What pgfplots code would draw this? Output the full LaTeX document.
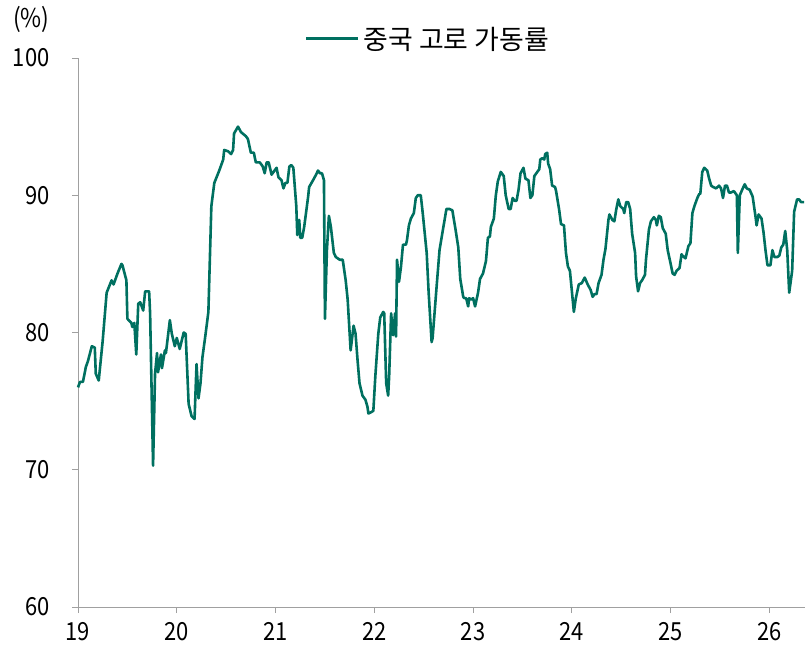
\documentclass[border=0pt]{standalone}
\usepackage{pgfplots}
\pgfplotsset{compat=1.18}
\usepackage{fontspec}
\setmainfont{Noto Sans CJK KR}
\newfontfamily\tickfont[FakeStretch=0.88]{Noto Sans CJK KR}
\definecolor{teal1}{RGB}{0,112,96}
\definecolor{axgray}{RGB}{160,160,160}
\begin{document}
\begin{tikzpicture}
\begin{axis}[
  at={(0,0)}, anchor=south west,
  scale only axis, width=727bp, height=549bp,
  xmin=19, xmax=26.36, ymin=60, ymax=100,
  axis x line*=bottom, axis y line*=left,
  axis line style={axgray, line width=0.9bp},
  xtick={19,20,21,22,23,24,25,26},
  ytick={60,70,80,90,100},
  tick align=outside, major tick length=6bp,
  tick style={axgray, line width=0.9bp},
  minor tick num=0,
  /pgf/number format/assume math mode=true,
  ticklabel style={font=\tickfont\fontsize{25}{28}\selectfont, text=black},
  xticklabel style={yshift=-6bp},
  yticklabel style={xshift=-19bp},
  clip=false,
  legend style={at={(0.312,1.035)}, anchor=west, draw=none, fill=none,
    inner sep=0pt, font=\fontsize{27}{30}\selectfont,
    nodes={inner sep=1bp},
    /tikz/every odd column/.append style={column sep=3bp}},
  legend image code/.code={\draw[#1] (0bp,0bp) -- (52bp,0bp);},
]
\addplot[teal1, line width=2.6bp, line join=round] table {
19.00 76.0
19.02 76.4
19.05 76.4
19.08 77.5
19.10 77.9
19.14 79.0
19.17 78.9
19.18 77.0
19.21 76.5
19.25 79.4
19.29 82.9
19.34 83.8
19.36 83.5
19.40 84.3
19.44 85.0
19.45 84.9
19.49 83.8
19.50 81.0
19.54 80.7
19.55 80.4
19.57 80.7
19.59 78.4
19.61 82.1
19.63 82.2
19.66 81.6
19.68 83.0
19.72 83.0
19.73 81.4
19.76 70.3
19.78 77.0
19.80 78.5
19.81 77.1
19.84 78.4
19.85 77.4
19.88 78.7
19.89 78.5
19.93 80.9
19.95 79.9
19.98 79.0
20.00 79.6
20.03 78.8
20.07 80.0
20.09 79.9
20.12 74.8
20.15 73.9
20.18 73.7
20.20 77.7
20.22 75.2
20.24 76.3
20.26 78.2
20.29 79.8
20.32 81.5
20.35 89.2
20.38 90.9
20.43 91.8
20.47 92.6
20.48 93.3
20.52 93.2
20.55 93.0
20.57 93.3
20.58 94.5
20.62 95.0
20.65 94.6
20.70 94.3
20.72 94.1
20.75 93.1
20.78 93.1
20.80 92.4
20.84 92.4
20.87 92.1
20.89 91.6
20.91 92.4
20.93 92.4
20.96 91.5
21.01 92.0
21.03 91.3
21.06 91.1
21.08 90.5
21.10 90.9
21.12 90.9
21.14 92.1
21.16 92.2
21.18 92.0
21.21 89.2
21.22 87.1
21.24 88.2
21.25 86.9
21.27 86.9
21.29 87.7
21.33 89.9
21.34 90.6
21.38 91.1
21.41 91.5
21.43 91.8
21.45 91.6
21.47 91.6
21.49 91.1
21.50 81.0
21.52 86.0
21.54 88.5
21.56 87.7
21.59 85.8
21.61 85.5
21.65 85.3
21.68 85.3
21.71 83.8
21.73 82.4
21.76 78.7
21.79 80.5
21.81 79.9
21.83 78.0
21.85 76.3
21.88 75.4
21.91 75.1
21.93 74.6
21.94 74.1
21.97 74.2
21.99 74.3
22.01 76.8
22.04 79.9
22.06 81.1
22.09 81.5
22.10 81.4
22.12 76.3
22.14 75.4
22.15 76.8
22.17 81.4
22.19 79.8
22.21 81.4
22.22 79.7
22.23 85.3
22.25 83.7
22.27 84.8
22.29 86.4
22.32 86.4
22.33 86.7
22.35 87.8
22.37 88.3
22.40 88.7
22.42 89.8
22.44 90.0
22.47 90.0
22.49 88.7
22.53 85.8
22.55 82.9
22.58 79.3
22.59 79.6
22.63 83.3
22.66 86.0
22.69 87.3
22.73 89.0
22.76 89.0
22.79 88.9
22.82 87.6
22.85 86.2
22.87 83.9
22.90 82.6
22.91 82.5
22.93 82.5
22.95 81.9
22.96 82.5
22.98 82.4
23.00 82.5
23.02 81.9
23.05 82.9
23.07 83.9
23.10 84.3
23.13 85.2
23.15 86.9
23.17 87.0
23.18 87.7
23.21 88.3
23.23 90.0
23.25 91.0
23.28 91.7
23.31 91.4
23.33 90.0
23.36 89.0
23.38 89.0
23.40 89.8
23.42 89.6
23.44 89.6
23.46 90.4
23.48 91.6
23.51 92.0
23.53 91.2
23.56 91.1
23.58 89.8
23.60 90.0
23.62 91.4
23.65 91.7
23.67 91.9
23.68 92.6
23.70 92.7
23.72 92.6
23.73 93.0
23.75 93.1
23.76 92.3
23.78 91.9
23.80 90.7
23.83 90.6
23.84 90.3
23.87 89.0
23.89 87.9
23.92 87.8
23.94 85.8
23.96 84.8
23.98 84.5
24.00 83.0
24.02 81.5
24.04 82.5
24.07 83.5
24.10 83.6
24.13 84.0
24.16 83.5
24.19 83.1
24.21 82.6
24.23 82.8
24.25 82.8
24.27 83.6
24.30 84.2
24.32 85.3
24.34 86.1
24.37 88.2
24.38 88.6
24.41 88.2
24.43 88.1
24.45 89.0
24.47 89.7
24.49 89.2
24.52 89.0
24.53 88.7
24.55 89.5
24.57 89.5
24.59 89.0
24.61 87.2
24.64 85.8
24.65 84.1
24.67 83.0
24.69 83.6
24.71 83.8
24.74 84.2
24.75 85.3
24.78 87.5
24.80 88.1
24.83 88.4
24.85 88.2
24.86 87.8
24.88 88.5
24.90 88.4
24.92 87.6
24.95 87.2
24.97 86.0
25.00 85.0
25.02 84.3
25.04 84.2
25.06 84.5
25.09 84.7
25.11 85.7
25.12 85.6
25.15 85.4
25.18 86.3
25.20 86.5
25.22 88.7
25.24 89.2
25.27 89.8
25.29 90.1
25.30 90.1
25.32 91.7
25.34 92.0
25.37 91.8
25.39 91.2
25.41 90.7
25.43 90.6
25.46 90.5
25.49 90.7
25.51 90.5
25.53 89.8
25.55 90.7
25.57 90.7
25.59 90.2
25.61 90.2
25.64 90.3
25.67 90.0
25.68 85.8
25.70 90.0
25.73 90.5
25.75 90.8
25.77 90.5
25.80 90.4
25.83 89.9
25.86 88.4
25.87 87.8
25.89 88.6
25.92 88.3
25.94 87.3
25.96 86.0
25.98 84.9
26.01 84.9
26.03 86.0
26.05 85.5
26.08 85.5
26.10 85.6
26.12 86.2
26.14 86.4
26.16 87.4
26.18 86.0
26.20 82.9
26.23 84.5
26.25 88.8
26.28 89.7
26.30 89.7
26.32 89.5
26.35 89.5
};
\addlegendentry{중국 고로 가동률}
\end{axis}
\node[anchor=west, inner sep=0pt, font=\tickfont\fontsize{26}{29}\selectfont] at (-65bp,588bp) {(\%)};
\pgfresetboundingbox
\path (-78bp,-42bp) rectangle (727bp,607bp);
\end{tikzpicture}
\end{document}
